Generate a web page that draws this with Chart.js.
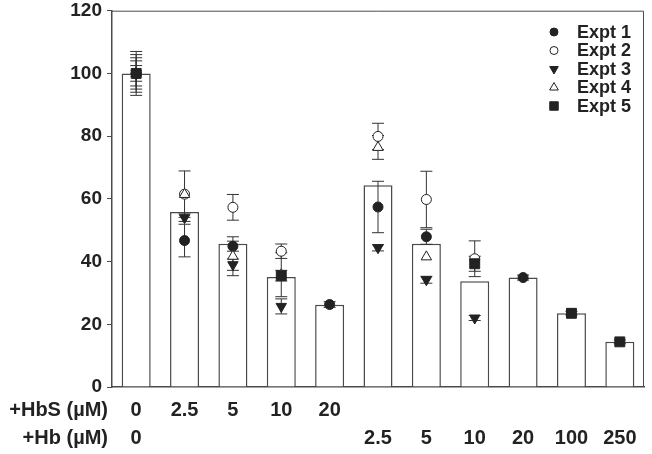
<!DOCTYPE html>
<html>
<head>
    <meta charset="utf-8">
    <title>HbS / Hb</title>
    <script src="https://cdn.jsdelivr.net/npm/chart.js@4.4.0/dist/chart.umd.min.js"></script>
    <style>
        body { margin: 0; background: #fff; }
        canvas { display: block; }
    </style>
</head>
<body>
    <canvas id="chartCanvas" width="652" height="454"></canvas>

    <script>
        // categorii (doua randuri de etichete sub axa x)
        const hbsLabels = ['0', '2.5', '5', '10', '20', '', '', '', '', '', ''];
        const hbLabels  = ['0', '', '', '', '', '2.5', '5', '10', '20', '100', '250'];
        const rowTitles = ['+HbS (\u00b5M)', '+Hb (\u00b5M)'];

        // media (bare)
        const means = [100, 55.8, 45.7, 35.1, 26.2, 64.3, 45.7, 33.7, 34.9, 23.5, 14.4];

        // experimente individuale + erori
        const expt1 = [100, 46.7, 44.9, null, 26.3, 57.4, 47.9, null, 34.9, null, null];
        const expt1Err = [4, 5.2, 1.6, null, 0.9, 8.2, 2.4, null, 0.8, null, null];
        const expt2 = [100, 61.5, 57.3, 43.3, null, 79.9, 59.8, 40.9, null, null, null];
        const expt2Err = [7, 7.4, 4.1, 2.3, null, 4.2, 9, 5.7, null, null, null];
        const expt3 = [100, 54, 39, 25.7, null, 44.4, 34.2, 22, null, null, null];
        const expt3Err = [6, 1.2, 1.8, 2.4, null, 1, 1.1, 0.8, null, null, null];
        const expt4 = [100, 61.4, 41.7, 35.8, null, 76.4, 41.5, null, null, null, null];
        const expt4Err = [5, null, 6.2, 7, null, 3.8, null, null, null, null, null];
        const expt5 = [100, null, null, 35.5, null, null, null, 39.3, null, 23.5, 14.4];
        const expt5Err = [2.5, null, null, 1.7, null, null, null, 2.4, null, 0.6, 0.6];

        const legendNames = ['Expt 1', 'Expt 2', 'Expt 3', 'Expt 4', 'Expt 5'];

        const FONT = '"Liberation Sans", Arial, sans-serif';
        const DARK = '#222';
        const LINE = '#4a4a4a';

        const styles = [
            { pointStyle: 'circle', radius: 5, rotation: 0, fill: DARK },
            { pointStyle: 'circle', radius: 5, rotation: 0, fill: '#fff' },
            { pointStyle: 'triangle', radius: 6, rotation: 180, fill: DARK },
            { pointStyle: 'triangle', radius: 6, rotation: 0, fill: '#fff' },
            { pointStyle: 'rect', radius: 7, rotation: 0, fill: DARK }
        ];
        const exptData = [expt1, expt2, expt3, expt4, expt5];
        const exptErr = [expt1Err, expt2Err, expt3Err, expt4Err, expt5Err];

        const labels = hbsLabels.map((s, i) => [s, hbLabels[i]]);

        const datasets = [{
            type: 'bar',
            label: 'mean',
            data: means,
            backgroundColor: '#fff',
            borderColor: LINE,
            borderWidth: 1.5,
            categoryPercentage: 1,
            barPercentage: 0.6,
            order: 10
        }];
        exptData.forEach((d, i) => {
            const st = styles[i];
            datasets.push({
                type: 'line',
                label: legendNames[i],
                data: d,
                showLine: false,
                pointStyle: st.pointStyle,
                pointRadius: st.radius,
                pointRotation: st.rotation,
                pointBackgroundColor: st.fill,
                pointBorderColor: DARK,
                pointBorderWidth: 1,
                order: 5 - i
            });
        });

        // bare de eroare, desenate peste bare si sub puncte
        const errorBars = {
            id: 'errorBars',
            afterDatasetDraw(chart, args) {
                if (args.index !== 0) return;
                const ctx = chart.ctx;
                const xs = chart.scales.x, ys = chart.scales.y;
                ctx.save();
                ctx.strokeStyle = '#333';
                ctx.lineWidth = 1;
                exptData.forEach((d, k) => {
                    d.forEach((v, i) => {
                        const e = exptErr[k][i];
                        if (v == null || e == null) return;
                        const x = xs.getPixelForValue(i);
                        const yt = ys.getPixelForValue(v + e);
                        const yb = ys.getPixelForValue(v - e);
                        ctx.beginPath();
                        ctx.moveTo(x, yt); ctx.lineTo(x, yb);
                        ctx.moveTo(x - 6, yt); ctx.lineTo(x + 6, yt);
                        ctx.moveTo(x - 6, yb); ctx.lineTo(x + 6, yb);
                        ctx.stroke();
                    });
                });
                ctx.restore();
            }
        };

        // cadru, titluri de rand si legenda
        const extras = {
            id: 'extras',
            afterDraw(chart) {
                const ctx = chart.ctx;
                const a = chart.chartArea;
                ctx.save();
                ctx.strokeStyle = LINE;
                ctx.lineWidth = 1;
                ctx.beginPath();
                ctx.moveTo(a.left, a.top + 0.5);
                ctx.lineTo(a.right - 0.5, a.top + 0.5);
                ctx.lineTo(a.right - 0.5, a.bottom);
                ctx.stroke();

                ctx.fillStyle = DARK;
                ctx.font = 'bold 20px ' + FONT;
                ctx.textAlign = 'right';
                ctx.textBaseline = 'middle';
                ctx.fillText(rowTitles[0], 108, 410);
                ctx.fillText(rowTitles[1], 108, 438);

                ctx.font = 'bold 18px ' + FONT;
                ctx.textAlign = 'left';
                legendNames.forEach((name, i) => {
                    const st = styles[i];
                    const y = 32 + 18.5 * i;
                    ctx.fillStyle = st.fill;
                    ctx.strokeStyle = DARK;
                    ctx.lineWidth = 1;
                    Chart.helpers.drawPoint(ctx, {
                        pointStyle: st.pointStyle,
                        radius: st.pointStyle === 'rect' ? 6 : st.radius - 1,
                        rotation: st.rotation,
                        borderWidth: 1
                    }, 554, y);
                    ctx.fillStyle = DARK;
                    ctx.fillText(name, 577, y + 1);
                });
                ctx.restore();
            }
        };

        const ctx = document.getElementById('chartCanvas').getContext('2d');
        const chart = new Chart(ctx, {
            data: { labels: labels, datasets: datasets },
            options: {
                responsive: false,
                animation: false,
                devicePixelRatio: 1,
                layout: { padding: { top: 0, right: 1, left: 0, bottom: 0 } },
                plugins: {
                    legend: { display: false },
                    tooltip: { enabled: false }
                },
                scales: {
                    x: {
                        offset: true,
                        grid: { display: false, drawTicks: false },
                        border: { display: true, color: LINE, width: 1.5 },
                        ticks: {
                            autoSkip: false,
                            maxRotation: 0,
                            padding: 9,
                            color: DARK,
                            font: { family: FONT, size: 20, weight: 'bold', lineHeight: 1.4 }
                        },
                        afterFit(scale) { scale.height = 67; }
                    },
                    y: {
                        min: 0,
                        max: 120,
                        ticks: {
                            stepSize: 20,
                            padding: 5,
                            color: DARK,
                            font: { family: FONT, size: 19, weight: 'bold', lineHeight: 0.6 }
                        },
                        grid: { drawOnChartArea: false, tickLength: 5, color: LINE },
                        border: { display: true, color: LINE, width: 1.5 },
                        afterFit(scale) { scale.width = 112; }
                    }
                }
            },
            plugins: [errorBars, extras]
        });
    </script>
</body>
</html>
